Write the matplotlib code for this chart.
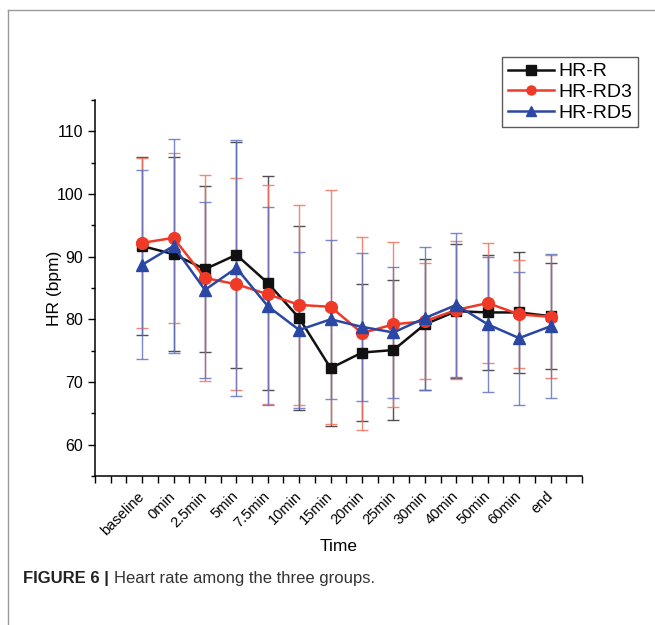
import numpy as np
import matplotlib
matplotlib.use("Agg")
import matplotlib.pyplot as plt
from matplotlib.lines import Line2D

plt.rcParams["font.family"] = ["Liberation Sans", "DejaVu Sans"]

# data
time_labels = ["baseline", "0min", "2.5min", "5min", "7.5min", "10min", "15min",
               "20min", "25min", "30min", "40min", "50min", "60min", "end"]

hr_r_mean = [91.7, 90.4, 88.0, 90.3, 85.8, 80.2, 72.2, 74.7, 75.1, 79.2, 81.3, 81.1, 81.1, 80.5]
hr_r_sd = [14.2, 15.5, 13.2, 18.0, 17.0, 14.7, 9.3, 11.0, 11.1, 10.4, 10.7, 9.2, 9.7, 8.5]

hr_rd3_mean = [92.2, 93.0, 86.6, 85.6, 84.0, 82.3, 82.0, 77.8, 79.2, 79.7, 81.5, 82.6, 80.8, 80.4]
hr_rd3_sd = [13.6, 13.6, 16.5, 16.9, 17.5, 16.0, 18.7, 15.4, 13.2, 9.3, 11.0, 9.6, 8.6, 9.8]

hr_rd5_mean = [88.7, 91.7, 84.7, 88.2, 82.1, 78.3, 80.0, 78.8, 77.9, 80.2, 82.3, 79.2, 77.0, 78.9]
hr_rd5_sd = [15.1, 17.0, 14.0, 20.4, 15.8, 12.4, 12.7, 11.8, 10.5, 11.4, 11.5, 10.8, 10.6, 11.5]

series = [
    ("HR-R", hr_r_mean, hr_r_sd, "#111111", "#333333", "s"),
    ("HR-RD3", hr_rd3_mean, hr_rd3_sd, "#EE3A26", "#F4735C", "o"),
    ("HR-RD5", hr_rd5_mean, hr_rd5_sd, "#2A47A3", "#6275C4", "^"),
]

fig = plt.figure(figsize=(6.55, 6.25), dpi=100)
ax = fig.add_axes([0.145, 0.2384, 0.7435, 0.6016])

x = np.arange(len(time_labels))

# error bars first, then the lines on top
for name, mean, sd, col, ecol, mk in series:
    ax.errorbar(x, mean, yerr=sd, fmt="none", ecolor=ecol, elinewidth=1.0,
                capsize=4, capthick=1.0, alpha=0.85, zorder=2)

handles = []
for name, mean, sd, col, ecol, mk in series:
    msize = 7.5 if mk == "s" else 8.5
    h, = ax.plot(x, mean, color=col, marker=mk, markersize=msize, linewidth=1.8,
                 label=name, zorder=3)
    handles.append(h)

ax.set_xlim(-1.5, 14)
ax.set_ylim(55, 115)
ax.set_xticks(np.arange(-1.5, 14.01, 0.5), minor=True)
ax.set_xticks(x)
ax.set_xticklabels(time_labels, rotation=45, ha="right", va="center",
                   rotation_mode="anchor", fontsize=10.5)
ax.set_yticks([60, 70, 80, 90, 100, 110])
ax.set_yticks(np.arange(55, 115.1, 5), minor=True)
ax.tick_params(axis="y", labelsize=11.5, length=5, width=1, direction="out")
ax.tick_params(axis="x", length=5, width=1, direction="out", pad=8)
ax.tick_params(which="minor", length=5, width=1)
ax.tick_params(axis="y", which="minor", length=3)

for side in ["top", "right"]:
    ax.spines[side].set_visible(False)
for side in ["left", "bottom"]:
    ax.spines[side].set_linewidth(1.1)

ax.set_xlabel("Time", fontsize=12.5, labelpad=1)
ax.set_ylabel("HR (bpm)", fontsize=12.5, labelpad=-4)

leg = fig.legend(handles=handles, loc="upper left", bbox_to_anchor=(502 / 655, 1 - 57 / 625),
                 fontsize=14, frameon=True, fancybox=False, handlelength=2.35,
                 handletextpad=0.25, borderpad=0.3, labelspacing=0.15, borderaxespad=0)
leg.get_frame().set_edgecolor("#333333")
leg.get_frame().set_linewidth(1.0)
for lh in leg.legend_handles:
    lh.set_markersize(6.5)

# page frame lines
fig.add_artist(Line2D([8 / 655, 1], [1 - 10 / 625, 1 - 10 / 625], transform=fig.transFigure,
                      color="#999999", linewidth=1))
fig.add_artist(Line2D([8 / 655, 8 / 655], [0, 1 - 10 / 625], transform=fig.transFigure,
                      color="#999999", linewidth=1))

# caption
cap_y = 1 - 578 / 625
t1 = fig.text(23 / 655, cap_y, "FIGURE 6 |", fontsize=12, fontweight="bold",
              color="#222222", va="center")
fig.canvas.draw()
bb = t1.get_window_extent()
x_next = bb.x1 / fig.bbox.width + 5 / 655
fig.text(x_next, cap_y, "Heart rate among the three groups.", fontsize=12,
         color="#333333", va="center")

fig.savefig("out.png", dpi=100)
